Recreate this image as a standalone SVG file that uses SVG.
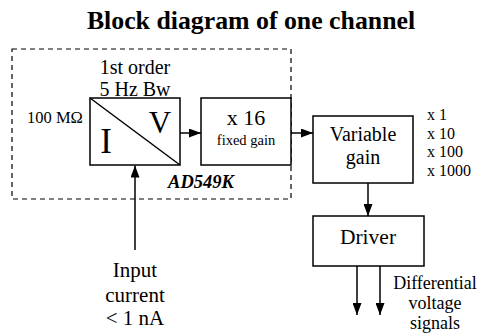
<svg xmlns="http://www.w3.org/2000/svg" width="480" height="334" viewBox="0 0 480 334">
<defs>
<style>
text{font-family:"Liberation Serif","Times New Roman",serif;fill:#000}
.box{fill:#fff;stroke:#000;stroke-width:1.5}
.ln{fill:none;stroke:#000;stroke-width:1.5}
.dash{fill:none;stroke:#000;stroke-width:1.2;stroke-dasharray:5,4}
.c{text-anchor:middle}
</style>
<marker id="ah" viewBox="0 0 12 10" refX="12" refY="5" markerWidth="12" markerHeight="9" markerUnits="userSpaceOnUse" orient="auto" preserveAspectRatio="none">
<path d="M0,0 L12,5 L0,10 z" fill="#000"/>
</marker>
</defs>
<rect width="480" height="334" fill="#fff"/>
<text x="251" y="29" class="c" font-size="25.8" font-weight="bold">Block diagram of one channel</text>
<g id="ad549k">
<rect class="dash" x="12" y="49" width="279" height="150"/>
<text x="201" y="188" class="c" font-size="18.5" font-weight="bold" font-style="italic">AD549K</text>
</g>
<g id="iv">
<rect class="box" x="90" y="98" width="90" height="67"/>
<line class="ln" x1="90" y1="98" x2="180" y2="165"/>
<text x="106" y="153" class="c" font-size="35">I</text>
<text x="160" y="133" class="c" font-size="31">V</text>
<text x="135" y="74" class="c" font-size="20">1st order</text>
<text x="135" y="95.5" class="c" font-size="20">5 Hz Bw</text>
<text x="27" y="123" font-size="16.5">100 MΩ</text>
</g>
<g id="fixed">
<rect class="box" x="201" y="98" width="90" height="67"/>
<text x="246" y="125" class="c" font-size="22">x 16</text>
<text x="246" y="145" class="c" font-size="14.5">fixed gain</text>
</g>
<g id="variable">
<rect class="box" x="313" y="116" width="100" height="67"/>
<text x="363" y="140.5" class="c" font-size="20">Variable</text>
<text x="363" y="164" class="c" font-size="20">gain</text>
<text x="427" y="120" font-size="16">x 1</text>
<text x="427" y="138.5" font-size="16">x 10</text>
<text x="427" y="157" font-size="16">x 100</text>
<text x="427" y="175.5" font-size="16">x 1000</text>
</g>
<g id="driver">
<rect class="box" x="313" y="216" width="111" height="50"/>
<text x="368" y="243.5" class="c" font-size="21.5">Driver</text>
</g>
<g id="labels">
<text x="135" y="277" class="c" font-size="21">Input</text>
<text x="135" y="301.5" class="c" font-size="21">current</text>
<text x="135" y="325" class="c" font-size="21">&lt; 1 nA</text>
<text x="435" y="289" class="c" font-size="18">Differential</text>
<text x="435" y="309" class="c" font-size="18">voltage</text>
<text x="435" y="329" class="c" font-size="18">signals</text>
</g>
<g id="connectors">
<line class="ln" x1="180" y1="133" x2="201" y2="133" marker-end="url(#ah)"/>
<line class="ln" x1="291" y1="133" x2="313" y2="133" marker-end="url(#ah)"/>
<line class="ln" x1="135" y1="250" x2="135" y2="165.5" marker-end="url(#ah)"/>
<line class="ln" x1="368" y1="183" x2="368" y2="216" marker-end="url(#ah)"/>
<line class="ln" x1="357" y1="266" x2="357" y2="315" marker-end="url(#ah)"/>
<line class="ln" x1="380" y1="266" x2="380" y2="315" marker-end="url(#ah)"/>
</g>
</svg>
